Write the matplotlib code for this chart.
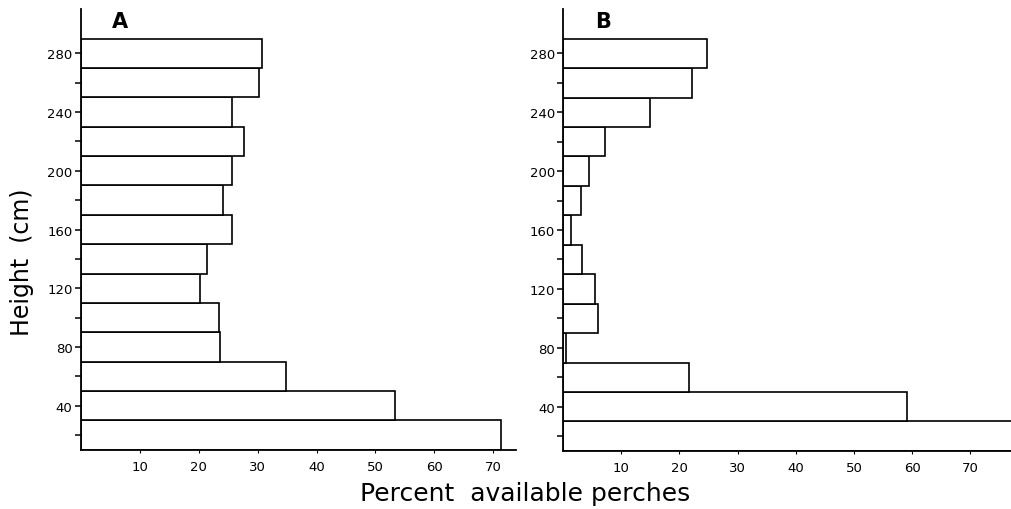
import matplotlib
matplotlib.use("Agg")
import matplotlib.pyplot as plt
import numpy as np

plt.rcParams["font.family"] = ["DejaVu Sans"]

# height bins (cm), centre of each 20 cm class
heights = [20, 40, 60, 80, 100, 120, 140, 160, 180, 200, 220, 240, 260, 280]

# percent available perches, panel A and panel B
pct_a = [71.4, 53.3, 34.9, 23.6, 23.4, 20.2, 21.4, 25.7, 24.1, 25.7, 27.7, 25.7, 30.2, 30.7]
pct_b = [78.0, 59.1, 21.6, 0.5, 6.0, 5.5, 3.3, 1.4, 3.1, 4.5, 7.2, 15.0, 22.2, 24.8]

y_major = [40, 80, 120, 160, 200, 240, 280]
y_minor = [20, 60, 100, 140, 180, 220, 260]
x_ticks = [10, 20, 30, 40, 50, 60, 70]

fig = plt.figure(figsize=(10.11, 5.10), dpi=100)
ax_a = fig.add_axes([0.080, 0.116, 0.430, 0.864])
ax_b = fig.add_axes([0.557, 0.114, 0.443, 0.866])


def style(ax, vals, xmax, label):
    ax.barh(heights, vals, height=20, color="white", edgecolor="black",
            linewidth=1.2, zorder=2)
    ax.set_xlim(0, xmax)
    ax.set_ylim(10, 310)
    ax.spines["top"].set_visible(False)
    ax.spines["right"].set_visible(False)
    for s in ("left", "bottom"):
        ax.spines[s].set_linewidth(1.3)
    ax.set_yticks(y_major)
    ax.set_yticks(y_minor, minor=True)
    ax.set_xticks(x_ticks)
    ax.tick_params(axis="y", which="major", length=4, width=1.1, labelsize=9.5, pad=2)
    ax.tick_params(axis="y", which="minor", length=4, width=1.1)
    ax.tick_params(axis="x", length=2, width=0.8, labelsize=9.5, pad=5)
    ax.text(0.09, 0.997, label, transform=ax.transAxes, fontsize=15,
            fontweight="bold", ha="center", va="top")


style(ax_a, pct_a, 73.8, "A")
style(ax_b, pct_b, 77.0, "B")

fig.text(0.022, 0.485, "Height  (cm)", rotation=90, fontsize=17,
         ha="center", va="center")
fig.text(0.519, 0.032, "Percent  available perches", fontsize=18,
         ha="center", va="center")

fig.savefig("out.png", dpi=100)
